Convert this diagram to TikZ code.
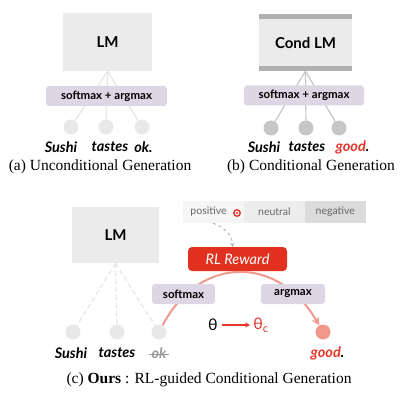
\documentclass[tikz,border=0pt]{standalone}
\usepackage{fontspec}
\setmainfont{Liberation Serif}
\newfontfamily\gillfont{Lato}
\usepackage{tikz}
\usetikzlibrary{arrows.meta,positioning}

\definecolor{lmgray}{HTML}{EBEBEB}
\definecolor{bargray}{HTML}{B0B0B0}
\definecolor{lilac}{HTML}{DDD6E4}
\definecolor{rewardred}{HTML}{E2301F}
\definecolor{salmon}{HTML}{F2978C}
\definecolor{tokred}{HTML}{E8352A}
\definecolor{palegray}{HTML}{E6E6E6}
\definecolor{midgray}{HTML}{C6C6C6}

\tikzset{
  lmbox/.style={fill=lmgray, minimum width=89pt, minimum height=58pt,
    font=\gillfont\bfseries\fontsize{15}{15}\selectfont},
  opbox/.style={fill=lilac, rounded corners=3pt, minimum height=20pt, inner sep=2pt,
    font=\gillfont\bfseries\fontsize{11.5}{12}\selectfont},
  tok/.style={circle, minimum size=15pt, inner sep=0pt},
  word/.style={inner sep=0pt, font=\gillfont\bfseries\itshape\fontsize{14.5}{14}\selectfont},
  caption/.style={inner sep=0pt, font=\fontsize{15.5}{15}\selectfont},
  polar/.style={minimum width=60.5pt, minimum height=22pt, inner sep=0pt, text=black!60,
    font=\gillfont\fontsize{10.5}{12}\selectfont},
}

\begin{document}
\begin{tikzpicture}[x=1pt,y=1pt]
    \useasboundingbox (0,0) rectangle (419,-403);

    %Panel a
     \begin{scope}[every node/.style={tok,fill=palegray!90!white}]
       \node (a1) at (71,-127) {};
       \node (a2) at (106,-127) {};
       \node (a3) at (142,-127) {};
    \end{scope}
    \node[lmbox] (lmA) at (107.5,-42) {LM};
    \begin{scope}[every path/.style={draw=palegray, line width=1.2pt}]
      \path (lmA.south) edge (a1);
      \path (lmA.south) edge (a2);
      \path (lmA.south) edge (a3);
    \end{scope}
    \node[opbox, minimum width=121pt] (smA) at (106.5,-96) {softmax + argmax};
    \node[word] (wA1) at (61,-147) {Sushi};
    \node[word] (wA2) at (110,-147) {tastes};
    \node[word] (wA3) at (143.5,-147) {ok.};
    \node[caption] (capA) at (100,-167) {(a) Unconditional Generation};

    %Panel b
     \begin{scope}[every node/.style={tok,fill=midgray}]
       \node (b1) at (271,-128) {};
       \node (b2) at (306,-128) {};
       \node (b3) at (339,-128) {};
    \end{scope}
    \node[lmbox, minimum width=93pt, minimum height=57pt] (lmB) at (305.5,-42.5) {Cond LM};
    \fill[bargray] (lmB.north west) rectangle ([yshift=-5.5pt]lmB.north east);
    \fill[bargray] (lmB.south west) rectangle ([yshift=5.5pt]lmB.south east);
    \begin{scope}[every path/.style={draw=midgray, line width=1.2pt}]
      \path (lmB.south) edge (b1);
      \path (lmB.south) edge (b2);
      \path (lmB.south) edge (b3);
    \end{scope}
    \node[opbox, minimum width=120pt] (smB) at (304,-95.5) {softmax + argmax};
    \node[word] (wB1) at (264,-147) {Sushi};
    \node[word] (wB2) at (307,-147) {tastes};
    \node[word] (wB3) at (352.5,-147) {\color{tokred}good\color{black}.};
    \node[caption] (capB) at (311,-167) {(b) Conditional Generation};

    %Panel c
     \begin{scope}[every node/.style={tok,fill=palegray!90!white}]
       \node (c1) at (73,-332) {};
       \node (c2) at (117,-332) {};
       \node (c3) at (159,-332) {};
       \node[fill=salmon] (c4) at (323,-332) {};
    \end{scope}
    \node[lmbox, minimum width=87pt, minimum height=56pt] (lmC) at (115.5,-235) {LM};
    \begin{scope}[every path/.style={draw=palegray, line width=1.2pt, dash pattern=on 5pt off 3pt}]
      \path (lmC.south) edge (c1);
      \path (lmC.south) edge (c2);
      \path (lmC.south) edge (c3);
    \end{scope}

    % polarity choices
    \node[polar, fill=black!4] (pos) at (213.5,-212) {positive\kern10pt};
    \node[polar, fill=black!7, right=0pt of pos] (neu) {neutral};
    \node[polar, fill=black!14, right=0pt of neu] (neg) {negative};
    \node[circle, draw=tokred, line width=1.4pt, minimum size=6.5pt, inner sep=0pt,
      path picture={\fill[tokred] (path picture bounding box.center) circle (1.1pt);}]
      (mark) at (237,-213) {};

    % reward loop
    \node[fill=rewardred, rounded corners=4pt, minimum width=99pt, minimum height=24pt,
      text=white, font=\gillfont\itshape\fontsize{14.5}{14}\selectfont] (rl) at (237.5,-259) {RL Reward};
    \draw[black!30, dashed, line width=0.9pt, -{Stealth[length=4pt,width=4pt]}]
      ([xshift=-0.5pt]pos.south) to[out=-20,in=90] ([xshift=-5pt]rl.north);
    \draw[salmon, line width=2pt, -{Stealth[length=8pt,width=8pt]}]
      (c3) to[out=62,in=120,looseness=1.32] (c4);
    \node[opbox, minimum width=63pt] (sm) at (183.5,-294) {softmax};
    \node[opbox, minimum width=64pt] (am) at (293,-294) {argmax};

    \node[inner sep=1pt, font=\gillfont\fontsize{16}{16}\selectfont] (th) at (213,-325) {θ};
    \node[inner sep=1pt, text=tokred, font=\gillfont\fontsize{16}{16}\selectfont] (thc) at (261,-325) {θ\textsubscript{c}};
    \draw[tokred, line width=1.2pt, shorten <=3pt, shorten >=2pt, -{Stealth[length=5pt,width=5pt]}] (th) -- (thc);

    \node[word] (wC1) at (71,-353) {Sushi};
    \node[word] (wC2) at (117,-353) {tastes};
    \node[word, text=black!40] (wC3) at (159,-353) {ok};
    \draw[black!40, line width=0.8pt] ([xshift=-2pt,yshift=-1pt]wC3.west) -- ([xshift=2pt,yshift=-1pt]wC3.east);
    \node[word] (wC4) at (327.5,-353) {\color{tokred}good\color{black}.};
    \node[caption] (capC) at (209,-380) {(c) \textbf{Ours} : RL-guided Conditional Generation};
  \end{tikzpicture}
\end{document}
